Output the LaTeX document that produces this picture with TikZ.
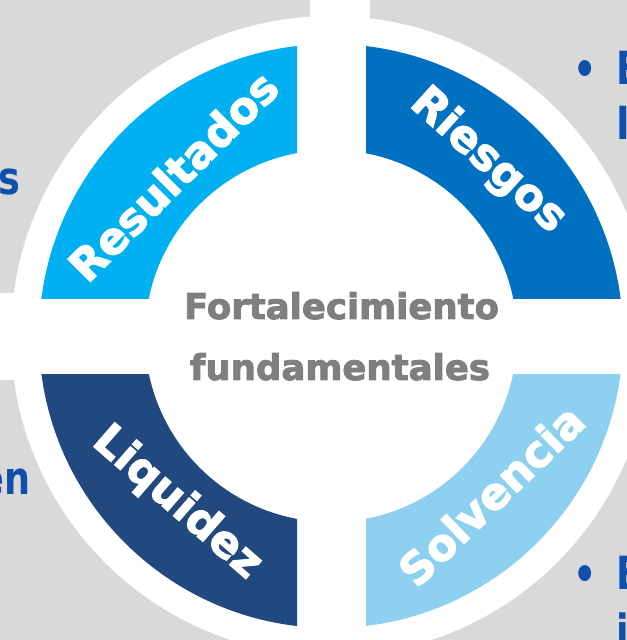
\documentclass[tikz,border=0pt]{standalone}
\usepackage{fontspec}
\setmainfont{DejaVu Sans}
\newfontfamily\heavyfont{DejaVu Sans Bold}[FakeBold=2.5]
\newfontfamily\sidefont{DejaVu Sans Bold}[FakeStretch=0.8]
\definecolor{panelgray}{HTML}{D9D9D9}
\definecolor{resblue}{HTML}{00B0F0}
\definecolor{riesblue}{HTML}{0070C0}
\definecolor{liqblue}{HTML}{21497F}
\definecolor{solvblue}{HTML}{8ED0F0}
\definecolor{midgray}{HTML}{7F7F7F}
\definecolor{textblue}{HTML}{1150AA}
\tikzset{
  ringlabel/.style={text=white,font=\heavyfont\fontsize{37.5}{40}\selectfont,inner sep=0},
  midtext/.style={text=midgray,font=\heavyfont\fontsize{30.3}{33}\selectfont,inner sep=0,anchor=base},
  sidetext/.style={text=textblue,font=\sidefont\fontsize{39}{42}\selectfont,inner sep=0}
}
\begin{document}
\begin{tikzpicture}[x=.03cm,y=.03cm]
\useasboundingbox (0,0) rectangle (627,640);
\clip (0,0) rectangle (627,640);
\fill[panelgray] (0,347) rectangle (310,640);
\fill[panelgray] (370,347) rectangle (627,640);
\fill[panelgray] (0,0) rectangle (310,260);
\fill[panelgray] (370,0) rectangle (627,260);
\coordinate (c) at (331,304);
\fill[white] (c) circle (320);
\begin{scope}
\clip (0,341) rectangle (297,640);
\fill[resblue,even odd rule] (c) circle (292) (c) circle (186);
\end{scope}
\begin{scope}
\clip (366,341) rectangle (627,640);
\fill[riesblue,even odd rule] (c) circle (292) (c) circle (186);
\end{scope}
\begin{scope}
\clip (0,0) rectangle (297,265);
\fill[liqblue,even odd rule] (c) circle (292) (c) circle (186);
\end{scope}
\begin{scope}
\clip (366,0) rectangle (627,265);
\fill[solvblue,even odd rule] (c) circle (292) (c) circle (186);
\end{scope}
\node[ringlabel,rotate=45] (res) at (173,464) {Resultados};
\node[ringlabel,rotate=-42] (ries) at (488,479) {Riesgos};
\node[ringlabel,rotate=-41] (liq) at (177,137) {Liquidez};
\node[ringlabel,rotate=44] (solv) at (491,145) {Solvencia};
\node[midtext] (fort) at (341.5,321) {Fortalecimiento};
\node[midtext] (fund) at (340,260) {fundamentales};
\node[sidetext,anchor=base east] (s1) at (20,445) {s};
\node[sidetext,anchor=base east] (en1) at (31,145) {en};
\node[sidetext] (dot1) at (585,567) {•};
\node[sidetext,anchor=base west] (e1) at (616,555) {E};
\node[sidetext,anchor=base west] (i1) at (616,500) {I};
\node[sidetext] (dot2) at (585,62) {•};
\node[sidetext,anchor=base west] (e2) at (616,50) {E};
\node[sidetext,anchor=base west] (i2) at (616,-7) {i};
\end{tikzpicture}
\end{document}
